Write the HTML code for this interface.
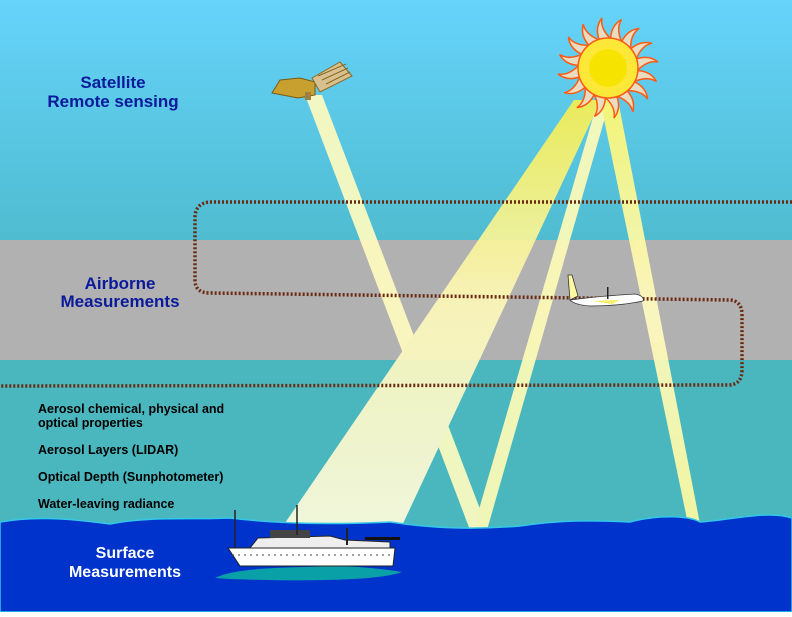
<!DOCTYPE html>
<html><head><meta charset="utf-8"><style>
html,body{margin:0;padding:0;}
body{width:792px;height:612px;overflow:hidden;}
</style></head><body>
<svg width="792" height="612" viewBox="0 0 792 612" xmlns="http://www.w3.org/2000/svg" font-family="Liberation Sans, sans-serif">
<defs>
<linearGradient id="sky" x1="0" y1="0" x2="0" y2="1">
<stop offset="0" stop-color="#66d3fb"/><stop offset="1" stop-color="#4fbcd0"/>
</linearGradient>
<linearGradient id="cone" x1="0" y1="0" x2="0" y2="1">
<stop offset="0" stop-color="#f6ee50"/><stop offset="0.45" stop-color="#fcf8b8"/><stop offset="1" stop-color="#fffce0"/>
</linearGradient>
<linearGradient id="rb" x1="0" y1="0" x2="0" y2="1">
<stop offset="0" stop-color="#fff870"/><stop offset="0.5" stop-color="#fffbc0"/><stop offset="1" stop-color="#fffaa0"/>
</linearGradient>
</defs>
<rect width="792" height="240" fill="url(#sky)"/>
<rect y="240" width="792" height="120" fill="#b1b1b1"/>
<rect y="360" width="792" height="252" fill="#4ab7bf"/>
<!-- beams -->
<g opacity="0.92">
<polygon points="305,95 322,95 488,530 470,530" fill="#fffcc0"/>
<polygon points="598,100 610,100 487,530 473,530" fill="#fffcb8"/>
<polygon points="574,100 601,100 400,530 270,545" fill="url(#cone)"/>
<polygon points="600,100 618,100 700,524 688,524" fill="url(#rb)"/>
</g>
<!-- water -->
<path d="M0,522 C40,515 80,520 110,524 C150,516 190,520 230,518 C280,524 330,525 390,522 C430,528 470,530 520,526 C560,520 590,520 630,522 C660,514 690,516 700,522 C730,520 770,510 792,518 L792,612 L0,612Z" fill="#0033cc" stroke="#33c8e8" stroke-width="1.5"/>
<path d="M215,578 C240,566 300,568 330,566 C360,566 390,570 402,572 C380,580 320,582 230,579Z" fill="#0aa0a8"/>
<!-- dotted path -->
<path d="M792,202 L212,202 Q195,202 195,218 L195,280 Q195,293 210,293 L730,300 Q742,301 742,315 L742,370 Q742,385 728,385 L0,386" fill="none" stroke="#6b2a12" stroke-width="3.5" stroke-dasharray="2,2"/>
<!-- airplane -->
<g>
<path d="M570,300 Q600,296 635,294 Q645,296 643,301 Q620,306 590,306 Q575,305 570,300Z" fill="#fff" stroke="#333" stroke-width="0.8"/>
<path d="M568,275 L572,275 L578,296 L570,300Z" fill="#fff8a0" stroke="#333" stroke-width="0.8"/>
<rect x="607" y="287" width="1.5" height="12" fill="#222"/>
<path d="M592,301 L620,300 L612,304Z" fill="#f5ee60"/>
</g>
<!-- satellite -->
<g>
<path d="M272,93 L280,80 L300,78 L315,82 L315,95 L298,98Z" fill="#c8a030" stroke="#7a5a10" stroke-width="1"/>
<path d="M312,78 L340,62 L352,76 L320,92Z" fill="#d8c090" stroke="#8a6a20" stroke-width="1"/>
<path d="M318,76 L346,64 M322,80 L348,68 M326,84 L350,72" stroke="#8a6a20" stroke-width="1"/>
<rect x="305" y="92" width="6" height="8" fill="#a08040"/>
</g>
<!-- sun -->
<g transform="translate(608,68)" stroke="#ff5a10" stroke-width="1.5" fill="#eadcc0">
<g id="ray"><path d="M26,-8 Q40,-14 50,-6 Q40,-8 30,2Z"/></g>
<use href="#ray" transform="rotate(22.5)"/><use href="#ray" transform="rotate(45)"/><use href="#ray" transform="rotate(67.5)"/>
<use href="#ray" transform="rotate(90)"/><use href="#ray" transform="rotate(112.5)"/><use href="#ray" transform="rotate(135)"/>
<use href="#ray" transform="rotate(157.5)"/><use href="#ray" transform="rotate(180)"/><use href="#ray" transform="rotate(202.5)"/>
<use href="#ray" transform="rotate(225)"/><use href="#ray" transform="rotate(247.5)"/><use href="#ray" transform="rotate(270)"/>
<use href="#ray" transform="rotate(292.5)"/><use href="#ray" transform="rotate(315)"/><use href="#ray" transform="rotate(337.5)"/>
<circle r="30" fill="#fde83a"/>
<circle r="19" fill="#f6e400" stroke="none"/>
</g>
<!-- ship -->
<g>
<path d="M228,548 L395,548 L393,566 L240,566 Z" fill="#fff" stroke="#222" stroke-width="1"/>
<path d="M250,548 L258,538 L330,536 L345,540 L390,542 L390,548Z" fill="#eee" stroke="#222" stroke-width="1"/>
<rect x="270" y="530" width="40" height="8" fill="#444"/>
<line x1="235" y1="510" x2="235" y2="548" stroke="#222" stroke-width="1.5"/>
<line x1="297" y1="505" x2="297" y2="535" stroke="#222" stroke-width="1.5"/>
<line x1="347" y1="528" x2="347" y2="545" stroke="#222" stroke-width="2"/>
<rect x="365" y="537" width="35" height="3" fill="#111"/>
<line x1="232" y1="555" x2="392" y2="555" stroke="#444" stroke-width="1" stroke-dasharray="2,4"/>
</g>
<!-- text -->
<g font-weight="bold" fill="#0a1a9a" font-size="17" text-anchor="middle">
<text x="113" y="88">Satellite</text>
<text x="113" y="107">Remote sensing</text>
<text x="120" y="289">Airborne</text>
<text x="120" y="307">Measurements</text>
</g>
<g font-weight="bold" fill="#000" font-size="12.5">
<text x="38" y="413">Aerosol chemical, physical and</text>
<text x="38" y="427">optical properties</text>
<text x="38" y="454">Aerosol Layers (LIDAR)</text>
<text x="38" y="481">Optical Depth (Sunphotometer)</text>
<text x="38" y="508">Water-leaving radiance</text>
</g>
<g font-weight="bold" fill="#fff" font-size="16" text-anchor="middle">
<text x="125" y="558">Surface</text>
<text x="125" y="577">Measurements</text>
</g>
</svg>
</body></html>
